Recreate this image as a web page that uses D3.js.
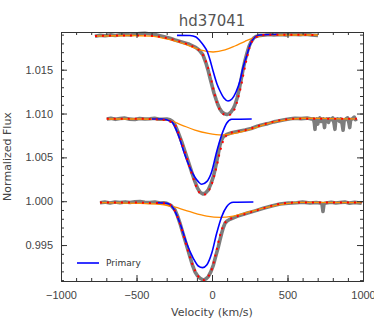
<!DOCTYPE html>
<html>
<head>
<meta charset="utf-8">
<script src="https://cdn.jsdelivr.net/npm/d3@7"></script>
<style>
  html, body { margin: 0; padding: 0; background: #fff; }
  #chart { width: 374px; height: 336px; }
  svg { display: block; font-family: "DejaVu Sans", sans-serif; }
  .axis text { fill: #444; font-size: 11px; }
  .axis path, .axis line { stroke: #333; }
</style>
</head>
<body>
<div id="chart"></div>
<script>
// values, [velocity km/s, normalized flux]
const xTicks = [-1000, -500, 0, 500, 1000];
const yTicks = [0.995, 1.0, 1.005, 1.01, 1.015];
const xDomain = [-1000, 1000];
const yDomain = [0.9909, 1.0193];
const titleText = "hd37041";
const xLabel = "Velocity (km/s)";
const yLabel = "Normalized Flux";
const legendLabel = "Primary";

const topObserved = [
  [-775, 1.01881], [-740, 1.01893], [-709, 1.01887], [-670, 1.01897], [-640, 1.0189],
  [-609, 1.01898], [-575, 1.01903], [-540, 1.01896], [-510, 1.01908], [-475, 1.01912],
  [-444, 1.01915], [-410, 1.01908], [-377, 1.01901], [-345, 1.01888], [-311, 1.01873],
  [-278, 1.01858], [-245, 1.01839], [-212, 1.01822], [-179, 1.01805], [-150, 1.0179],
  [-126, 1.0177], [-106, 1.01752], [-86, 1.01725], [-60, 1.01668], [-40, 1.01576],
  [-26, 1.01495], [-13, 1.01405], [0, 1.0132], [13, 1.01234], [27, 1.0116],
  [40, 1.01097], [53, 1.0105], [66, 1.01018], [82, 1.00998], [99, 1.00989],
  [113, 1.00996], [126, 1.01018], [139, 1.0105], [152, 1.01097], [166, 1.01175],
  [179, 1.01268], [192, 1.0138], [205, 1.01497], [218, 1.016], [232, 1.0169],
  [245, 1.01765], [258, 1.01816], [275, 1.0186], [291, 1.01879], [320, 1.01892],
  [351, 1.01896], [380, 1.01902], [410, 1.01895], [450, 1.01903], [490, 1.01897],
  [530, 1.01904], [583, 1.01899], [620, 1.01905], [660, 1.01895], [702, 1.0189],
];
const topPrimary = [
  [-232, 1.01892], [-146, 1.0189], [-106, 1.01873], [-79, 1.01827], [-53, 1.0177],
  [-33, 1.01713], [-13, 1.01611], [7, 1.01485], [33, 1.01337], [53, 1.01257],
  [79, 1.01177], [106, 1.01143], [132, 1.01166], [159, 1.01246], [185, 1.01371],
  [205, 1.0152], [232, 1.01671], [252, 1.01785], [285, 1.01873], [318, 1.01896],
  [437, 1.01901],
];
const topSecondary = [
  [-775, 1.01884], [-543, 1.0189], [-411, 1.01884], [-278, 1.01842], [-146, 1.0177],
  [-79, 1.01725], [7, 1.01702], [86, 1.01725], [152, 1.0177], [219, 1.01824],
  [285, 1.01869], [351, 1.01892], [517, 1.01896], [702, 1.01896],
];
const topFit = [
  [-775, 1.01884], [-609, 1.0189], [-444, 1.0189], [-311, 1.01865], [-179, 1.018],
  [-106, 1.01745], [-73, 1.017], [-46, 1.0162], [-26, 1.0152], [-7, 1.014],
  [13, 1.0125], [33, 1.0112], [53, 1.0104], [79, 1.0099], [106, 1.0098],
  [132, 1.01], [152, 1.0106], [172, 1.0117], [192, 1.0131], [212, 1.0148],
  [232, 1.0164], [252, 1.0177], [271, 1.0184], [304, 1.0188], [370, 1.019],
  [500, 1.019], [702, 1.01895],
];

const midObserved = [
  [-697, 1.00938], [-670, 1.00945], [-640, 1.00934], [-609, 1.00943], [-580, 1.00948],
  [-545, 1.00936], [-510, 1.00932], [-480, 1.00944], [-445, 1.00937], [-411, 1.0094],
  [-380, 1.00946], [-350, 1.00935], [-331, 1.00934], [-300, 1.00938], [-278, 1.00929],
  [-260, 1.0091], [-245, 1.00869], [-223, 1.0078], [-201, 1.00679], [-179, 1.00565],
  [-157, 1.00451], [-135, 1.00335], [-113, 1.00223], [-96, 1.0015], [-79, 1.00102],
  [-60, 1.00082], [-42, 1.00095], [-25, 1.00128], [-8, 1.00195], [9, 1.0028],
  [20, 1.0036], [31, 1.00451], [42, 1.00545], [53, 1.00641], [64, 1.007],
  [75, 1.00736], [97, 1.00761], [130, 1.0078], [170, 1.00795], [219, 1.00812],
  [260, 1.0083], [300, 1.00855], [329, 1.00869], [370, 1.00885], [410, 1.00905],
  [439, 1.00915], [480, 1.0093], [520, 1.0094], [550, 1.00946], [590, 1.00942],
  [630, 1.00948], [660, 1.00938], [672, 1.0094], [678, 1.0089], [682, 1.0082],
  [686, 1.0092], [694, 1.0094], [700, 1.0088], [706, 1.0093], [714, 1.0095],
  [722, 1.0091], [728, 1.0093], [738, 1.0094], [745, 1.0084], [750, 1.0092],
  [760, 1.0094], [772, 1.009], [778, 1.0094], [790, 1.0093], [800, 1.0095],
  [808, 1.0089], [814, 1.0082], [820, 1.0093], [832, 1.0094], [845, 1.0091],
  [852, 1.0094], [862, 1.0088], [868, 1.0081], [875, 1.0092], [888, 1.0094],
  [898, 1.0095], [906, 1.009], [912, 1.0084], [918, 1.0093], [930, 1.0094],
  [942, 1.0096], [950, 1.0093], [960, 1.0094],
];
const midPrimary = [
  [-399, 1.00938], [-333, 1.00938], [-267, 1.00907], [-223, 1.00755], [-179, 1.00527],
  [-134, 1.00337], [-91, 1.00223], [-68, 1.00193], [-35, 1.00223], [-2, 1.00337],
  [31, 1.00565], [64, 1.00755], [97, 1.00889], [130, 1.00934], [263, 1.00938],
];
const midSecondary = [
  [-697, 1.00938], [-477, 1.00938], [-289, 1.00926], [-201, 1.00869], [-113, 1.00812],
  [-25, 1.00774], [64, 1.00755], [152, 1.00774], [263, 1.00824], [373, 1.00889],
  [483, 1.00926], [594, 1.00946], [781, 1.00943], [947, 1.00938],
];
const midFit = [
  [-697, 1.0094], [-500, 1.0094], [-330, 1.0093], [-267, 1.009], [-245, 1.0087],
  [-223, 1.0078], [-201, 1.0067], [-179, 1.0056], [-157, 1.0044], [-135, 1.0032],
  [-113, 1.0021], [-96, 1.0013], [-79, 1.0009], [-60, 1.00075], [-42, 1.0008],
  [-25, 1.0011], [-5, 1.0018], [15, 1.0029], [35, 1.0043], [55, 1.0058],
  [75, 1.0069], [90, 1.0074], [110, 1.0077], [150, 1.0079], [219, 1.0081],
  [329, 1.0087], [439, 1.0092], [550, 1.0094], [700, 1.0094], [960, 1.0094],
];

const botObserved = [
  [-742, 0.99983], [-710, 0.9999], [-675, 0.9998], [-642, 0.99991], [-610, 0.99984],
  [-575, 0.99992], [-543, 0.99985], [-510, 0.99993], [-477, 0.99997], [-445, 0.99988],
  [-411, 0.99985], [-378, 0.9999], [-344, 0.9998], [-320, 0.99982], [-300, 0.99976],
  [-270, 0.9995], [-245, 0.999], [-228, 0.9983], [-212, 0.99748], [-195, 0.9965],
  [-179, 0.99558], [-162, 0.9946], [-146, 0.99367], [-130, 0.99275], [-113, 0.99196],
  [-96, 0.9915], [-79, 0.99121], [-58, 0.99101], [-40, 0.99115], [-25, 0.99139],
  [-8, 0.99195], [9, 0.99272], [25, 0.99375], [42, 0.99481], [53, 0.9956],
  [64, 0.99634], [75, 0.997], [86, 0.99748], [100, 0.99775], [119, 0.99794],
  [170, 0.9983], [230, 0.99862], [285, 0.9989], [340, 0.99919], [395, 0.99945],
  [450, 0.99968], [505, 0.99978], [561, 0.99983], [600, 0.9999], [649, 0.9998],
  [690, 0.99986], [715, 0.9998], [728, 0.99975], [735, 0.99883], [742, 0.99975],
  [755, 0.9998], [790, 0.99988], [820, 0.99979], [848, 0.99985], [880, 0.9999],
  [910, 0.99978], [945, 0.99987], [991, 0.99976],
];
const botPrimary = [
  [-366, 0.99983], [-300, 0.99976], [-256, 0.99919], [-212, 0.99748], [-168, 0.9952],
  [-124, 0.99349], [-91, 0.99261], [-62, 0.99242], [-35, 0.99272], [-2, 0.99406],
  [31, 0.99634], [64, 0.99823], [97, 0.99937], [141, 0.99988], [274, 0.99991],
];
const botSecondary = [
  [-742, 0.99983], [-366, 0.99968], [-256, 0.99937], [-146, 0.9988], [-35, 0.99831],
  [53, 0.99816], [141, 0.99831], [252, 0.9988], [362, 0.9993], [472, 0.99968],
  [583, 0.99987], [991, 0.99983],
];
const botFit = [
  [-742, 0.99985], [-550, 0.99985], [-400, 0.9998], [-300, 0.99975], [-260, 0.9993],
  [-230, 0.9983], [-200, 0.9968], [-170, 0.995], [-140, 0.9933], [-110, 0.992],
  [-80, 0.9912], [-55, 0.991], [-30, 0.9913], [0, 0.9923], [25, 0.994],
  [50, 0.9959], [75, 0.9972], [100, 0.9978], [130, 0.99805], [230, 0.9986],
  [340, 0.9992], [450, 0.9997], [560, 0.99985], [700, 0.99985], [990, 0.99985],
];

class SpectraPlot {
  constructor(el) {
    this.el = el;
    this.width = 374;
    this.height = 336;
    this.margin = { top: 32, right: 11, bottom: 55, left: 61 };
    this.setup();
    this.scaffold();
    this.render();
  }

  setup() {
    this.x = d3.scaleLinear()
      .domain(xDomain)
      .range([this.margin.left, this.width - this.margin.right]);
    this.y = d3.scaleLinear()
      .domain(yDomain)
      .range([this.height - this.margin.bottom, this.margin.top]);

    this.smooth = d3.line()
      .x((d) => this.x(d[0]))
      .y((d) => this.y(d[1]))
      .curve(d3.curveMonotoneX);
    this.rough = d3.line()
      .x((d) => this.x(d[0]))
      .y((d) => this.y(d[1]));

    this.layers = [
      { id: "observed", line: this.rough, color: "#7d7d7d", width: 3.6, dash: null,
        sets: [topObserved, midObserved, botObserved] },
      { id: "secondary", line: this.smooth, color: "#ff8c00", width: 1.3, dash: null,
        sets: [topSecondary, midSecondary, botSecondary] },
      { id: "primary", line: this.smooth, color: "#0000ff", width: 1.6, dash: null,
        sets: [topPrimary, midPrimary, botPrimary] },
      { id: "fit", line: this.smooth, color: "#ff0000", width: 2, dash: "2 5",
        sets: [topFit, midFit, botFit] },
    ];
  }

  scaffold() {
    this.svg = d3.select(this.el)
      .append("svg")
      .attr("width", this.width)
      .attr("height", this.height);
    this.gLines = this.svg.append("g").attr("class", "lines-g");
    this.gAxes = this.svg.append("g");
  }

  render() {
    this.renderLines();
    this.renderAxes();
    this.renderText();
    this.renderLegend();
  }

  renderLines() {
    this.gLines
      .selectAll("g")
      .data(this.layers)
      .join("g")
      .attr("class", (d) => `layer layer--${d.id}`)
      .each((layer, i, nodes) => {
        d3.select(nodes[i])
          .selectAll("path")
          .data(layer.sets)
          .join("path")
          .attr("fill", "none")
          .attr("stroke", layer.color)
          .attr("stroke-width", layer.width)
          .attr("stroke-dasharray", layer.dash)
          .attr("stroke-linejoin", "round")
          .attr("d", (d) => layer.line(d));
      });
  }

  renderAxes() {
    const bottom = this.height - this.margin.bottom;
    const right = this.width - this.margin.right;
    const xMinor = d3.range(-1000, 1001, 100);
    const yMinor = d3.range(991, 1020).map((d) => d / 1000);
    const major = 6;
    const minor = 3;

    const addAxis = (axis, transform, labels) => {
      const g = this.gAxes.append("g")
        .attr("class", "axis")
        .attr("transform", transform)
        .call(axis);
      if (!labels) g.selectAll("text").remove();
      return g;
    };

    // bottom, with labels
    addAxis(d3.axisBottom(this.x).tickValues(xTicks).tickSize(-major)
      .tickSizeOuter(0).tickPadding(10).tickFormat(d3.format("d")),
      `translate(0,${bottom})`, true);
    addAxis(d3.axisBottom(this.x).tickValues(xMinor).tickSize(-minor)
      .tickSizeOuter(0), `translate(0,${bottom})`, false);
    // top
    addAxis(d3.axisTop(this.x).tickValues(xTicks).tickSize(-major)
      .tickSizeOuter(0), `translate(0,${this.margin.top})`, false);
    addAxis(d3.axisTop(this.x).tickValues(xMinor).tickSize(-minor)
      .tickSizeOuter(0), `translate(0,${this.margin.top})`, false);
    // left, with labels
    addAxis(d3.axisLeft(this.y).tickValues(yTicks).tickSize(-major)
      .tickSizeOuter(0).tickPadding(8).tickFormat(d3.format(".3f")),
      `translate(${this.margin.left},0)`, true);
    addAxis(d3.axisLeft(this.y).tickValues(yMinor).tickSize(-minor)
      .tickSizeOuter(0), `translate(${this.margin.left},0)`, false);
    // right
    addAxis(d3.axisRight(this.y).tickValues(yTicks).tickSize(-major)
      .tickSizeOuter(0), `translate(${right},0)`, false);
    addAxis(d3.axisRight(this.y).tickValues(yMinor).tickSize(-minor)
      .tickSizeOuter(0), `translate(${right},0)`, false);

    this.gAxes.selectAll(".axis text").attr("font-family", null).attr("font-size", null);
  }

  renderText() {
    const cx = (this.margin.left + this.width - this.margin.right) / 2;
    const cy = (this.margin.top + this.height - this.margin.bottom) / 2;

    this.svg.append("text")
      .attr("x", cx)
      .attr("y", 26)
      .attr("text-anchor", "middle")
      .attr("fill", "#555")
      .attr("font-size", 15)
      .text(titleText);

    this.svg.append("text")
      .attr("x", cx)
      .attr("y", 316)
      .attr("text-anchor", "middle")
      .attr("fill", "#444")
      .attr("font-size", 11)
      .text(xLabel);

    this.svg.append("text")
      .attr("transform", `translate(11,${cy}) rotate(-90)`)
      .attr("text-anchor", "middle")
      .attr("fill", "#444")
      .attr("font-size", 11)
      .text(yLabel);
  }

  renderLegend() {
    const g = this.svg.append("g").attr("class", "legend");
    g.append("line")
      .attr("x1", 77)
      .attr("x2", 99)
      .attr("y1", 263)
      .attr("y2", 263)
      .attr("stroke", "#0000ff")
      .attr("stroke-width", 1.6);
    g.append("text")
      .attr("x", 106)
      .attr("y", 266)
      .attr("fill", "#333")
      .attr("font-size", 9)
      .text(legendLabel);
  }
}

new SpectraPlot(document.getElementById("chart"));
</script>
</body>
</html>
